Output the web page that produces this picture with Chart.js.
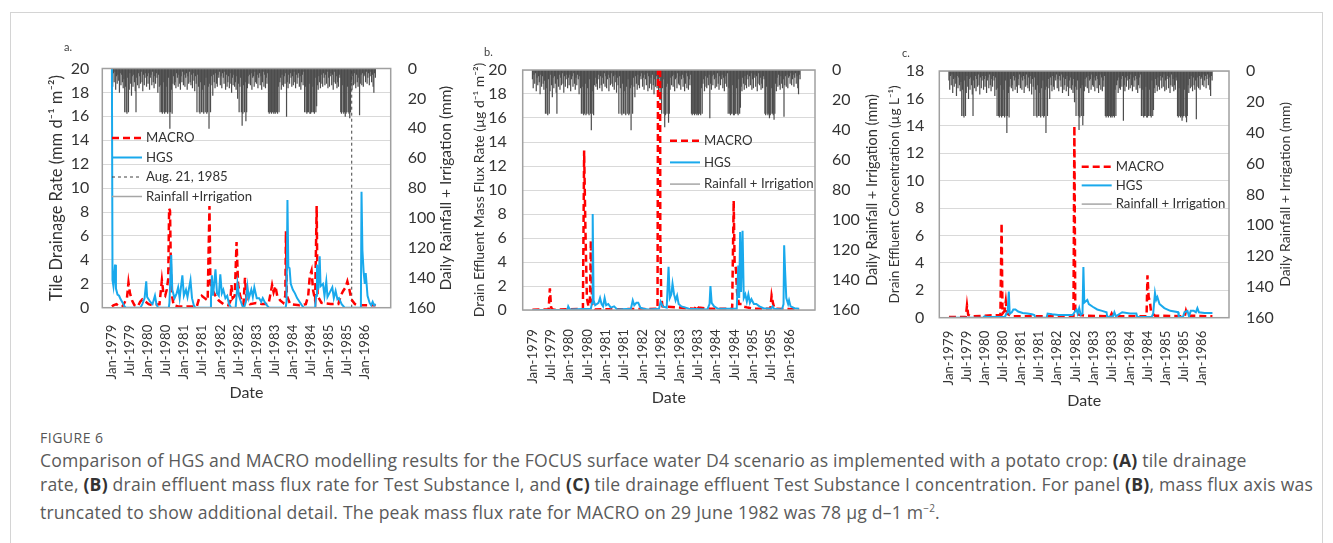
<!DOCTYPE html>
<html>
<head>
<meta charset="utf-8">
<script src="https://cdn.jsdelivr.net/npm/chart.js@4.4.1/dist/chart.umd.min.js"></script>
<style>
  body { margin: 0; background: #fff; width: 1333px; height: 543px; overflow: hidden; position: relative; font-family: 'Open Sans', sans-serif; }
  .frame { position: absolute; left: 10px; top: 12px; width: 1311px; height: 560px; border: 1px solid #d4d4d4; }
  canvas { position: absolute; }
  .tag { position: absolute; font: 11px Lato, sans-serif; color: #404040; }
  .fig { position: absolute; left: 40px; top: 429px; font-size: 14px; line-height: 18px; color: #555; letter-spacing: 0.5px; }
  .cap { position: absolute; left: 40px; top: 448px; font-size: 17.6px; line-height: 24px; color: #5a5a5a; white-space: nowrap; letter-spacing: 0.2px; }
  .cap b { color: #333; }
</style>
</head>
<body>
<div class="frame"></div>
<canvas id="chartA" width="430" height="364" style="left:40px;top:40px"></canvas>
<canvas id="chartB" width="428" height="369" style="left:462px;top:40px"></canvas>
<canvas id="chartC" width="432" height="372" style="left:878px;top:40px"></canvas>
<div class="tag" style="left:64px;top:40px">a.</div>
<div class="tag" style="left:484px;top:45px">b.</div>
<div class="tag" style="left:902px;top:46px">c.</div>
<div class="fig">FIGURE 6</div>
<div class="cap">Comparison of HGS and MACRO modelling results for the FOCUS surface water D4 scenario as implemented with a potato crop: <b>(A)</b> tile drainage<br>rate, <b>(B)</b> drain effluent mass flux rate for Test Substance I, and <b>(C)</b> tile drainage effluent Test Substance I concentration. For panel <b>(B)</b>, mass flux axis was<br>truncated to show additional detail. The peak mass flux rate for MACRO on 29 June 1982 was 78 µg d–1 m<sup style="font-size:10px">−2</sup>.</div>
<script>
// x axis is months since Jan 1979
const tickMonths = [0, 6, 12, 18, 24, 30, 36, 42, 48, 54, 60, 66, 72, 78, 84];
const tickLabels = ['Jan-1979', 'Jul-1979', 'Jan-1980', 'Jul-1980', 'Jan-1981', 'Jul-1981', 'Jan-1982', 'Jul-1982',
  'Jan-1983', 'Jul-1983', 'Jan-1984', 'Jul-1984', 'Jan-1985', 'Jul-1985', 'Jan-1986'];

// rainfall + irrigation (mm), four values per month starting Jan 1979
const rainfall = [
  6, 12, 3, 9,   2, 14, 5, 10,   4, 8, 16, 3,   11, 4, 9, 13,   7, 29, 12, 29,   30, 6, 29, 14,
  3, 10, 18, 5,  12, 4, 9, 15,   29, 6, 11, 3,  13, 5, 10, 2,   9, 15, 4, 11,    6, 3, 12, 5,
  10, 3, 14, 6,  4, 11, 2, 9,    13, 5, 10, 3,  6, 16, 4, 12,   29, 11, 29, 30,  29, 9, 30, 29,
  12, 29, 30, 6, 29, 40, 29, 14, 30, 10, 5, 11, 9, 13, 3, 6,    12, 4, 10, 14,   5, 9, 2, 11,
  4, 12, 6, 3,   14, 5, 10, 2,   9, 11, 4, 13,  3, 8, 15, 5,    10, 29, 4, 12,   29, 30, 9, 29,
  14, 29, 30, 11, 29, 6, 30, 29, 12, 40, 10, 29, 5, 11, 18, 4,  9, 13, 3, 10,    12, 4, 6, 2,
  11, 5, 13, 3,  6, 10, 2, 14,   4, 12, 9, 5,   13, 3, 10, 16,  6, 11, 4, 12,    9, 14, 5, 20,
  10, 29, 12, 6, 29, 38, 30, 11, 29, 9, 35, 29, 13, 5, 10, 4,   11, 3, 14, 6,    5, 12, 2, 9,
  10, 4, 13, 6,  3, 11, 5, 14,   9, 2, 12, 4,   13, 6, 10, 3,   29, 30, 29, 29,  30, 29, 29, 30,
  29, 30, 29, 29, 30, 12, 29, 9, 6, 14, 4, 11,  12, 5, 10, 3,   32, 9, 13, 4,    10, 3, 6, 12,
  5, 11, 2, 9,   13, 4, 10, 6,   3, 12, 5, 14,  9, 4, 11, 2,    29, 12, 29, 30,  29, 29, 10, 30,
  30, 29, 29, 12, 29, 30, 6, 29, 25, 11, 14, 5, 9, 13, 4, 10,   12, 3, 6, 11,    4, 10, 2, 13,
  6, 12, 5, 3,   11, 4, 14, 9,   2, 10, 5, 13,  9, 12, 4, 6,    29, 30, 11, 29,  30, 29, 32, 30,
  29, 12, 29, 30, 33, 29, 9, 14, 5, 11, 3, 10,  13, 4, 9, 12,   6, 31, 10, 4,    11, 3, 12, 5,
  4, 9, 2, 10,   6, 3, 11, 5,    2, 9, 4, 12,   16, 3, 6, 0
];

// panel a: tile drainage rate (mm d-1 m-2), [month, value]
const drainMACRO = [[0, 0.1], [0.5, 0.2], [1.5, 0.3], [2.5, 0.1], [3.5, 0.1], [5.0, 0.8], [5.5, 2.1], [6.0, 1.2],
  [6.7, 0.6], [7.5, 0.2], [8.6, 0.1], [9.4, 0.5], [10.1, 0.7], [11.2, 0.5], [12.2, 0.3], [13.7, 0.2], [15.8, 0.3],
  [16.6, 2.3], [17.1, 1.2], [17.7, 1.0], [18.2, 1.5], [18.7, 2.4], [19.0, 8.3], [19.3, 8.1], [19.6, 3.0], [19.95, 1.0],
  [20.5, 0.2], [22.0, 0.1], [28.2, 0.1], [29.0, 0.8], [29.8, 1.0], [30.8, 0.8], [31.8, 0.6], [32.4, 8.5], [32.7, 2.0],
  [33.4, 1.5], [34.4, 1.0], [35.5, 0.6], [37.0, 0.3], [38.6, 0.2], [39.3, 0.5], [39.7, 1.9], [40.1, 0.8], [40.8, 1.0],
  [41.4, 5.5], [41.9, 2.0], [42.4, 1.2], [43.0, 0.6], [43.7, 0.3], [44.2, 2.5], [44.7, 0.6], [45.8, 0.3], [47.9, 0.4],
  [49.9, 0.3], [52.0, 0.3], [52.7, 1.2], [53.2, 1.9], [53.7, 1.3], [54.3, 1.8], [54.9, 1.0], [55.9, 0.6], [56.9, 0.4],
  [57.6, 1.0], [57.8, 6.4], [58.1, 1.0], [59.2, 0.3], [62.3, 0.2], [64.4, 0.3], [65.2, 1.0], [65.7, 2.6], [66.3, 3.1],
  [66.8, 1.5], [67.5, 0.6], [68.0, 8.5], [68.3, 1.0], [69.6, 0.4], [72.7, 0.3], [75.2, 0.3], [76.0, 1.0], [76.8, 1.4],
  [77.6, 1.7], [78.2, 2.2], [78.9, 1.5], [79.5, 0.7], [80.7, 0.3], [83.0, 0.2], [87.6, 0.2]];
const drainHGS = [[0, 20], [0.2, 2.3], [0.5, 1.8], [1.03, 3.6], [1.34, 1.6], [1.86, 1.1], [2.38, 1.0], [2.9, 0.7],
  [3.6, 0.4], [4.2, 0.1], [4.65, 0], [9.5, 0], [10.1, 0.3], [10.85, 0.8], [11.4, 2.2], [11.7, 0.9], [12.7, 0.5],
  [13.5, 0.3], [14.3, 1.0], [14.8, 0.3], [15.3, 0], [18.9, 0], [19.1, 0.4], [19.7, 4.4], [20.05, 1.5], [20.8, 0.8],
  [21.5, 1.2], [22.0, 1.7], [22.5, 0.8], [23.4, 2.7], [23.9, 1.0], [24.6, 1.5], [25.1, 0.9], [26.1, 2.3], [26.6, 0.8],
  [27.2, 0.2], [27.7, 0], [32.6, 0], [32.9, 0.8], [33.2, 2.7], [33.6, 1.0], [34.4, 3.2], [34.9, 1.2], [35.5, 1.0],
  [36.0, 2.8], [36.5, 1.2], [37.0, 1.5], [37.7, 0.8], [38.3, 1.0], [38.9, 0.3], [39.6, 0], [41.1, 0], [41.7, 2.0],
  [42.2, 1.0], [42.7, 0.6], [43.4, 0.1], [43.9, 0], [44.5, 0.5], [45.0, 1.8], [45.5, 0.8], [46.3, 1.5], [46.8, 0.9],
  [47.3, 1.7], [48.1, 0.8], [48.9, 0.8], [49.6, 0.5], [50.1, 0.8], [50.9, 0.4], [51.8, 0.1], [52.2, 0], [57.7, 0],
  [58.0, 0.5], [58.3, 9.0], [58.6, 3.4], [59.0, 3.3], [59.4, 2.0], [60.1, 1.5], [60.8, 1.2], [61.5, 0.8], [62.3, 0.5],
  [63.1, 0.2], [63.7, 0], [67.5, 0], [67.8, 1.0], [68.1, 3.6], [68.5, 1.5], [69.0, 4.3], [69.3, 1.8], [70.1, 2.0],
  [70.6, 1.0], [71.2, 2.2], [71.6, 0.9], [72.2, 1.2], [73.2, 1.7], [73.7, 0.8], [74.3, 1.4], [74.9, 0.7], [75.4, 0.8],
  [76.3, 0.3], [77.3, 0], [82.5, 0], [82.7, 0.5], [82.9, 9.7], [83.2, 4.8], [83.6, 3.0], [84.0, 2.0], [84.3, 2.9],
  [84.9, 1.0], [85.6, 0.4], [86.1, 0.2], [86.6, 0.5], [87.1, 0.2], [87.6, 0.3]];
const markerMonth = 79.65; // Aug. 21, 1985

// panel b: drain effluent mass flux rate (µg d-1 m-2)
const fluxMACRO = [[0, 0.02], [5.3, 0.05], [5.7, 1.8], [6.1, 0.2], [6.8, 0.02], [16.5, 0.1], [16.9, 13.3], [17.3, 7.0],
  [17.8, 1.0], [18.3, 0.3], [18.8, 0.8], [19.1, 5.8], [19.5, 0.5], [20.5, 0.05], [40.9, 0.1], [41.5, 78], [41.8, 6.0],
  [42.1, 1.2], [42.5, 0.3], [53.1, 0.1], [53.6, 0.4], [54.3, 0.2], [58.2, 0.1], [65.3, 0.1], [65.8, 9.1], [66.1, 4.0],
  [66.5, 3.5], [66.9, 1.5], [67.5, 0.5], [68.4, 0.5], [68.9, 0.3], [70.4, 0.2], [72.4, 0.1], [77.8, 0.1], [78.2, 1.2],
  [78.7, 0.5], [79.2, 0.1], [87.2, 0.05]];
const fluxHGS = [[0, 0], [11.4, 0], [11.7, 0.3], [12.2, 0.05], [19.1, 0.1], [19.5, 0.6], [19.7, 8.0], [20.0, 0.8],
  [20.5, 0.4], [21.6, 0.6], [22.1, 1.0], [22.6, 0.5], [23.1, 0.3], [23.6, 1.0], [24.1, 0.4], [24.8, 0.5], [25.6, 0.2],
  [26.7, 0.3], [27.7, 0.05], [32.2, 0.1], [32.8, 0.8], [33.3, 0.4], [34.0, 0.6], [34.6, 0.6], [35.3, 0.2], [36.3, 0.1],
  [37.8, 0.05], [41.4, 0.1], [41.9, 0.7], [42.6, 0.3], [43.9, 0.2], [44.5, 3.6], [44.9, 1.0], [45.4, 1.3], [45.8, 2.2],
  [46.3, 1.3], [46.8, 0.8], [47.3, 1.2], [47.8, 0.5], [48.7, 0.3], [50.1, 0.2], [51.1, 0.1], [57.2, 0.05], [57.9, 0.5],
  [58.2, 2.0], [58.6, 0.6], [59.4, 0.3], [60.7, 0.1], [66.8, 0.1], [67.3, 3.7], [67.6, 1.0], [67.9, 6.5], [68.2, 1.5],
  [68.7, 6.6], [69.1, 1.0], [69.6, 1.3], [70.1, 0.7], [70.6, 1.3], [71.1, 0.6], [71.6, 0.9], [72.4, 0.5], [73.2, 0.5],
  [74.2, 0.3], [75.5, 0.15], [78.0, 0.1], [78.5, 0.3], [79.0, 0.1], [81.6, 0.05], [82.1, 0.5], [82.3, 5.4], [82.6, 3.3],
  [83.0, 1.0], [83.6, 0.5], [83.9, 0.8], [84.4, 0.3], [85.7, 0.15], [87.2, 0.1]];

// panel c: drain effluent concentration (µg L-1)
const concMACRO = [[0, 0.05], [5.6, 0.05], [6.0, 0.9], [6.4, 0.2], [7.4, 0.1], [17.1, 0.2], [17.5, 6.9], [17.8, 0.3],
  [18.5, 0.5], [18.9, 1.2], [19.3, 0.3], [20.9, 0.1], [41.4, 0.1], [41.7, 14.0], [42.0, 0.3], [43.6, 0.2], [45.7, 0.15],
  [53.7, 0.1], [54.1, 0.3], [54.5, 0.1], [65.7, 0.1], [66.0, 3.1], [66.4, 1.5], [66.8, 1.2], [67.2, 0.4], [68.5, 0.15],
  [78.4, 0.1], [78.8, 0.5], [79.3, 0.15], [87.6, 0.1]];
const concHGS = [[0, 0], [11.4, 0], [11.8, 0.1], [12.6, 0.05], [18.6, 0.05], [19.1, 0.3], [19.5, 0.4], [19.9, 1.9],
  [20.2, 0.3], [20.9, 0.4], [21.4, 0.6], [22.1, 0.6], [23.0, 0.45], [24.5, 0.35], [26.1, 0.3], [27.6, 0.25], [28.4, 0.2],
  [28.7, 0], [32.5, 0], [32.8, 0.3], [34.3, 0.25], [36.4, 0.2], [40.0, 0.2], [41.1, 0.2], [42.4, 0.6], [42.8, 0.3],
  [43.3, 0.7], [43.8, 0.2], [44.4, 0.3], [44.7, 3.7], [45.0, 1.1], [45.5, 1.2], [46.0, 1.3], [46.5, 1.0], [47.8, 0.8],
  [49.3, 0.6], [50.9, 0.5], [52.4, 0.4], [52.6, 0.05], [54.5, 0.1], [55.0, 0.4], [55.5, 0.1], [57.6, 0.4], [60.2, 0.3],
  [62.3, 0.3], [62.6, 0.05], [67.4, 0.05], [67.9, 0.3], [68.5, 1.8], [68.9, 1.3], [69.3, 1.5], [70.0, 1.0], [71.6, 0.7],
  [73.6, 0.5], [76.2, 0.4], [76.4, 0.05], [77.8, 0.05], [78.3, 0.4], [79.3, 0.5], [79.8, 0.1], [80.4, 0.5], [81.4, 0.5],
  [82.1, 0.4], [82.6, 0.7], [83.1, 0.4], [85.0, 0.35], [87.6, 0.35]];

const FONT = 'Lato, sans-serif';
const TEXT = '#333333';
const RED = '#ff0000';
const BLUE = '#19a9ec';

const pts = arr => arr.map(([x, y]) => ({ x, y }));

// frame, legend and right-hand axis title
const decor = {
  id: 'decor',
  afterDatasetsDraw(chart, args, o) {
    const { ctx, chartArea: a } = chart;
    ctx.save();
    ctx.strokeStyle = '#a0a0a0';
    ctx.lineWidth = 1.5;
    ctx.strokeRect(a.left, a.top, a.right - a.left, a.bottom - a.top);
    ctx.font = '13.2px ' + FONT;
    ctx.textBaseline = 'middle';
    chart.data.datasets.forEach((ds, i) => {
      const y = o.legendY + i * o.legendGap;
      ctx.beginPath();
      ctx.setLineDash(ds.borderDash || []);
      ctx.strokeStyle = ds.legendColor || ds.borderColor;
      ctx.lineWidth = ds.legendWidth || ds.borderWidth;
      ctx.moveTo(o.legendX, y);
      ctx.lineTo(o.legendX + 30, y);
      ctx.stroke();
      ctx.setLineDash([]);
      ctx.fillStyle = TEXT;
      ctx.fillText(ds.label, o.legendX + 34, y);
    });
    ctx.translate(a.right + o.rightTitleGap, (a.top + a.bottom) / 2);
    ctx.rotate(-Math.PI / 2);
    ctx.font = o.rightTitleSize + 'px ' + FONT;
    ctx.textAlign = 'center';
    ctx.fillText('Daily Rainfall + Irrigation (mm)', 0, 0);
    ctx.restore();
  }
};

function makePanel(id, p) {
  const datasets = [
    { label: 'MACRO', data: pts(p.macro), borderColor: RED, borderWidth: 2.5, borderDash: [7, 4], order: 1 },
    { label: 'HGS', data: pts(p.hgs), borderColor: BLUE, borderWidth: 2, order: 0 }
  ];
  if (p.marker !== undefined) {
    datasets.push({ label: 'Aug. 21, 1985', data: [{ x: p.marker, y: 0 }, { x: p.marker, y: p.yMax }],
      borderColor: '#404040', borderWidth: 1, borderDash: [3, 3], order: 2 });
  }
  datasets.push({
    type: 'bar', label: p.rainLabel, yAxisID: 'y2', order: 3,
    data: rainfall.map((v, i) => ({ x: i / 4, y: v })),
    backgroundColor: '#4d4d4d', borderWidth: 0, barThickness: 0.55,
    legendColor: '#a6a6a6', legendWidth: 1.5
  });
  datasets.forEach(d => { if (!d.type) { d.type = 'line'; d.pointRadius = 0; d.tension = 0; d.fill = false; } });

  new Chart(document.getElementById(id), {
    type: 'line',
    data: { datasets },
    options: {
      responsive: false,
      animation: false,
      layout: { padding: { top: p.top, left: 0, right: 0, bottom: 0 } },
      plugins: { legend: { display: false }, tooltip: { enabled: false }, decor: p.decor },
      scales: {
        x: {
          type: 'linear', min: 0, max: p.xMax,
          afterBuildTicks: s => { s.ticks = tickMonths.map(v => ({ value: v })); },
          afterFit: s => { s.height = p.xH; },
          ticks: { autoSkip: false, minRotation: 90, maxRotation: 90, padding: p.xPad, color: TEXT,
            font: { family: FONT, size: 13.2 }, callback: (v, i) => tickLabels[i] },
          grid: { display: false },
          border: { display: false },
          title: { display: true, text: 'Date', color: TEXT, font: { family: FONT, size: 16 }, padding: { top: 0, bottom: 2 } }
        },
        y: {
          min: 0, max: p.yMax,
          afterFit: s => { s.width = p.leftW; },
          ticks: { stepSize: 2, padding: p.leftPad, color: TEXT, font: { family: FONT, size: 16 } },
          grid: { color: '#d9d9d9', drawTicks: false },
          border: { display: false },
          title: { display: true, text: p.yTitle, color: TEXT, font: { family: FONT, size: p.yTitleSize },
            padding: { top: 17 - p.yTitleSize * 0.6, bottom: 0 } }
        },
        y2: {
          position: 'right', reverse: true, min: 0, max: 160,
          afterFit: s => { s.width = p.rightW; },
          ticks: { stepSize: 20, padding: 17, color: TEXT, font: { family: FONT, size: 16 } },
          grid: { display: false, drawTicks: false },
          border: { display: false }
        }
      }
    },
    plugins: [decor]
  });
}

makePanel('chartA', {
  macro: drainMACRO, hgs: drainHGS, marker: markerMonth, rainLabel: 'Rainfall +Irrigation',
  yMax: 20, xMax: 89.4, yTitle: 'Tile Drainage Rate (mm d⁻¹ m⁻²)', yTitleSize: 16.5,
  top: 28.5, leftW: 62.3, rightW: 79.3, xH: 96.3, leftPad: 13, xPad: 9,
  decor: { legendX: 72, legendY: 98, legendGap: 19.5, rightTitleGap: 55, rightTitleSize: 15.5 }
});
makePanel('chartB', {
  macro: fluxMACRO, hgs: fluxHGS, rainLabel: 'Rainfall + Irrigation',
  yMax: 20, xMax: 89.2, yTitle: 'Drain Effluent Mass Flux Rate (µg d⁻¹ m⁻²)', yTitleSize: 14,
  top: 30, leftW: 60.7, rightW: 75, xH: 99, leftPad: 16, xPad: 11,
  decor: { legendX: 208, legendY: 100.7, legendGap: 21.7, rightTitleGap: 57, rightTitleSize: 14.5 }
});
makePanel('chartC', {
  macro: concMACRO, hgs: concHGS, rainLabel: 'Rainfall + Irrigation',
  yMax: 18, xMax: 89.9, yTitle: 'Drain Effluent Concentration (µg L⁻¹)', yTitleSize: 13.6,
  top: 31, leftW: 61.3, rightW: 81, xH: 94.3, leftPad: 15, xPad: 5,
  decor: { legendX: 203.7, legendY: 126.7, legendGap: 18.7, rightTitleGap: 56, rightTitleSize: 14 }
});
</script>
</body>
</html>
